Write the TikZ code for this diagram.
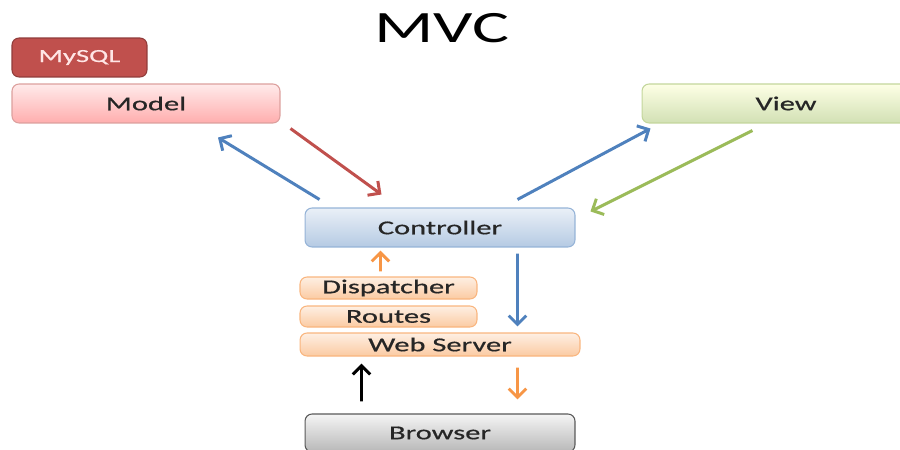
\documentclass[tikz,border=0pt]{standalone}
\usepackage{fontspec}
\setmainfont{Carlito}[FakeStretch=1.55]
\newfontfamily\labelfont{Carlito}[FakeStretch=1.55, FakeBold=0.6]
\usepackage{xcolor}
\usetikzlibrary{arrows.meta, calc}

\definecolor{mvcblue}{HTML}{4F81BD}
\definecolor{mvcred}{HTML}{C0504D}
\definecolor{mvcgreen}{HTML}{9BBB59}
\definecolor{mvcorange}{HTML}{F79646}

\begin{document}
\begin{tikzpicture}[x=0.02cm, y=-0.02cm, font=\labelfont\fontsize{11.2}{13}\selectfont,
  box/.style={rectangle, rounded corners=4pt, draw, line width=0.6pt, inner sep=0pt, text=black!85, minimum width=5.4cm, minimum height=0.78cm},
  model box/.style={box, draw=mvcred!55, top color=red!8, bottom color=red!32},
  db box/.style={box, fill=mvcred, draw=mvcred!75!black, text=red!10, font=\labelfont\fontsize{10.5}{12}\selectfont},
  view box/.style={box, draw=mvcgreen!60, top color=green!6!yellow!10, bottom color=mvcgreen!45},
  ctrl box/.style={box, draw=mvcblue!60, top color=mvcblue!12, bottom color=mvcblue!42},
  stack box/.style={box, draw=mvcorange!70, top color=mvcorange!15, bottom color=mvcorange!50, minimum height=0.44cm},
  client box/.style={box, draw=black!65, top color=black!4, bottom color=black!28},
  link/.style={line width=1.7pt, -{Straight Barb[length=5pt, width=10pt]}}]
  \useasboundingbox (0,0) rectangle (900,450);
  % title
  \node [font=\rmfamily] (title) at (442,28) {\fontsize{25.5}{28}\selectfont MVC};
  % boxes
  \node [db box, minimum width=2.7cm] (mysql) at (79.5,57.5) {MySQL};
  \node [model box, minimum width=5.36cm] (model) at (146,103.5) {Model};
  \node [view box, minimum width=5.76cm] (view) at (786,103.5) {View};
  \node [ctrl box] (ctrl) at (440,227.5) {Controller};
  \node [stack box, minimum width=3.54cm] (disp) at (388.5,288) {Dispatcher};
  \node [stack box, minimum width=3.54cm, minimum height=0.42cm] (routes) at (388.5,316.5) {Routes};
  \node [stack box, minimum width=5.6cm, minimum height=0.46cm] (web) at (440,344.5) {Web Server};
  \node [client box, minimum height=0.76cm] (browser) at (440,433) {Browser};
  % arrows
  \draw [link, mvcblue] ($(ctrl.north west)+(15,-8)$) -- ($(model.south)+(72,14)$);
  \draw [link, mvcred] ($(model.south east)+(10,5)$) -- ($(ctrl.north west)+(77,-13)$);
  \draw [link, mvcblue] ($(ctrl.north east)+(-58,-8)$) -- ($(view.south west)+(9,5)$);
  \draw [link, mvcgreen] ($(view.south west)+(111,7)$) -- ($(ctrl.north east)+(15,4)$);
  \draw [link, mvcorange] ($(disp.north west)+(81,-5)$) -- ($(ctrl.south west)+(76,3)$);
  \draw [link, mvcblue] ($(ctrl.south east)+(-58,6)$) -- ($(web.north east)+(-63,-6)$);
  \draw [link, black] ($(browser.north west)+(57,-12)$) -- ($(web.south west)+(62,7)$);
  \draw [link, mvcorange] ($(web.south east)+(-63,11)$) -- ($(browser.north east)+(-58,-14)$);
\end{tikzpicture}
\end{document}
